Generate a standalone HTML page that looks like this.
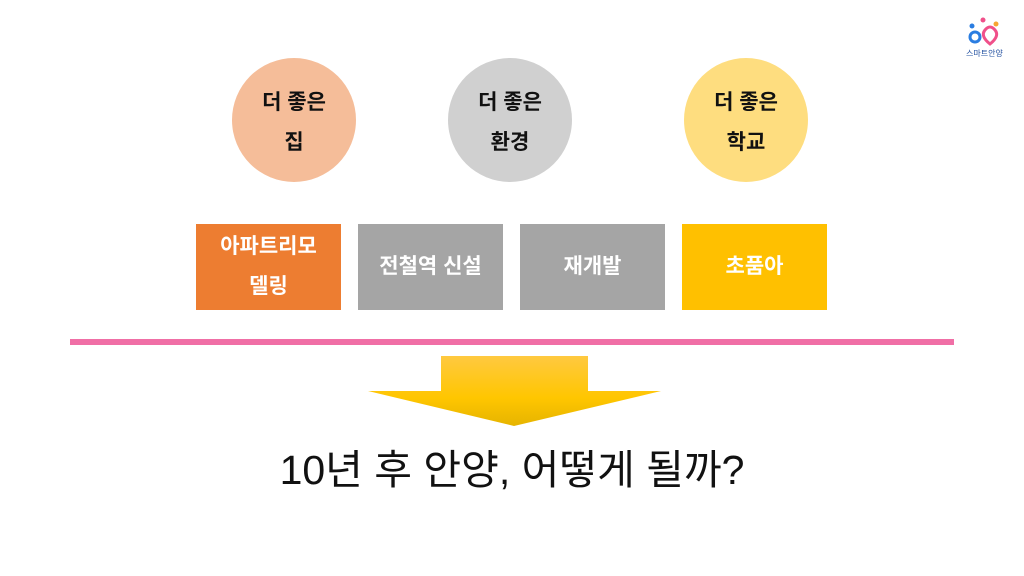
<!DOCTYPE html>
<html><head><meta charset="utf-8"><style>
body{margin:0;width:1024px;height:576px;background:#fff;position:relative;overflow:hidden;font-family:"Liberation Sans","Noto Sans CJK KR",sans-serif;}
.c{position:absolute;width:124px;height:124px;border-radius:50%;top:58px;display:flex;align-items:center;justify-content:center;text-align:center;font-size:21px;font-weight:bold;line-height:40px;color:#111;padding-top:6px;box-sizing:border-box;}
.b{position:absolute;top:224px;width:145px;height:86px;display:flex;align-items:center;justify-content:center;text-align:center;font-size:21px;font-weight:bold;line-height:40px;color:#fff;}
</style></head><body>
<div class="c" style="left:232px;background:#f5bd99">더 좋은<br>집</div>
<div class="c" style="left:448px;background:#d0d0d0">더 좋은<br>환경</div>
<div class="c" style="left:684px;background:#fedd7f">더 좋은<br>학교</div>
<div class="b" style="left:196px;background:#ed7d31">아파트리모<br>델링</div>
<div class="b" style="left:358px;background:#a5a5a5">전철역 신설</div>
<div class="b" style="left:520px;background:#a5a5a5">재개발</div>
<div class="b" style="left:682px;background:#ffc000">초품아</div>
<div style="position:absolute;left:70px;top:339px;width:884px;height:6px;background:#f06fa6"></div>
<svg style="position:absolute;left:0;top:0" width="1024" height="576">
<defs><linearGradient id="g" x1="0" y1="0" x2="0" y2="1"><stop offset="0" stop-color="#ffc940"/><stop offset="0.6" stop-color="#ffc600"/><stop offset="1" stop-color="#e6b400"/></linearGradient></defs>
<polygon points="441,356 588,356 588,391 661,391 514,426 368,391 441,391" fill="url(#g)"/>
<circle cx="975" cy="37" r="5" fill="none" stroke="#2a7de1" stroke-width="3"/>
<path d="M985 30 q5 -6 10 0 q5 6 -5 14 q-10 -8 -5 -14z" fill="none" stroke="#f0508a" stroke-width="3"/>
<circle cx="972" cy="26" r="2.5" fill="#2a7de1"/><circle cx="983" cy="20" r="2.5" fill="#f0508a"/><circle cx="996" cy="24" r="2.5" fill="#f7a531"/>
</svg>
<div style="position:absolute;left:966px;top:48px;font-size:8px;color:#2250a0">스마트안양</div>
<div style="position:absolute;left:0;width:1024px;top:436px;text-align:center;font-size:41px;color:#111;">10년 후 안양, 어떻게 될까?</div>
</body></html>
